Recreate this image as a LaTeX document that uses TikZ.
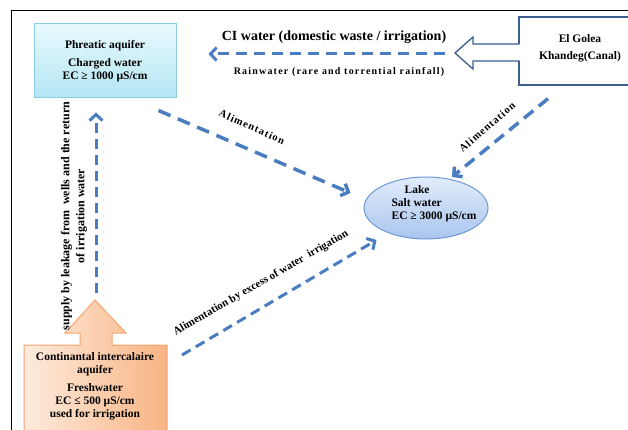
\documentclass[tikz,border=0pt]{standalone}
\usepackage{fontspec}
\setmainfont{Liberation Serif}
\usetikzlibrary{arrows.meta,shapes.geometric}

\definecolor{flowblue}{HTML}{4A7DC0}
\definecolor{canalline}{HTML}{3C5F90}
\definecolor{phrline}{HTML}{8CCBE0}
\definecolor{phrtop}{HTML}{E8F9FD}
\definecolor{phrbot}{HTML}{B3E6F4}
\definecolor{lakeline}{HTML}{6E98D4}
\definecolor{laketop}{HTML}{E2ECFB}
\definecolor{lakebot}{HTML}{A9C5EE}
\definecolor{ciline}{HTML}{F4A46C}
\definecolor{cilight}{HTML}{FDEBDD}
\definecolor{cidark}{HTML}{F8B483}

\begin{document}
\begin{tikzpicture}
      [x = 1pt, y = -1pt,
      flow/.style={
         draw = flowblue,
         line width = 3pt,
         dash pattern = on 11pt off 7pt,
         -{Straight Barb[length=6pt,width=13pt]}
      },
      txt/.style={
         font = \fontsize{11.5}{13}\selectfont\bfseries,
         align = center,
         inner sep = 0pt
      },
      lbl/.style={
         font = \fontsize{10.5}{12}\selectfont\bfseries\addfontfeature{LetterSpace=10},
         inner sep = 0pt
      }]

      \clip (0, 0) rectangle (628, 430);
      \draw[line width = 1pt] (11, 432) -- (11, 11) -- (630, 11);

      % phreatic aquifer
      \node[draw = phrline, line width = 1pt, top color = phrtop, bottom color = phrbot,
         minimum width = 142pt, minimum height = 74pt, txt] (phreatic) at (105, 61)
         {Phreatic aquifer\\[5pt]Charged water\\EC ≥ 1000 µS/cm};

      % canal and its block arrow
      \node[draw = canalline, line width = 1.3pt, fill = white,
         minimum width = 122pt, minimum height = 68pt] (canal) at (580, 51) {};
      \node[txt] (canaltext) at (580, 48) {El Golea\\[4pt]Khandeg(Canal)};
      \fill[white] (473, 44) rectangle (521, 61);
      \draw[canalline, line width = 1.3pt, line join = miter]
         (519.6, 44) -- (473, 44) -- (473, 37) -- (455, 53) -- (473, 69) -- (473, 61) -- (519.6, 61);
      \coordinate (canaltip) at (455, 53);

      % lake
      \node[draw = lakeline, line width = 1pt, top color = laketop, bottom color = lakebot,
         ellipse, minimum width = 124pt, minimum height = 62pt] (lake) at (426, 208) {};
      \node[txt, align = left] (laketext) at (434, 204)
         {\hspace*{13pt}Lake\\Salt water\\EC ≥ 3000 µS/cm};

      % continental intercalaire
      \shadedraw[left color = cilight, right color = cidark, draw = ciline, line width = 1pt]
         (24, 345) -- (80, 345) -- (80, 333) -- (65, 333) -- (95, 300) -- (126, 333)
         -- (112, 333) -- (112, 345) -- (167, 345) -- (167, 440) -- (24, 440) -- cycle;
      \coordinate (citop) at (95, 300);
      \coordinate (cicorner) at (167, 345);
      \node[txt] (ci) at (95, 386)
         {Continantal intercalaire\\aquifer\\[5pt]Freshwater\\EC ≤ 500 µS/cm\\used for irrigation};

      % flows
      \draw[flow] ([shift = {(-10, 1)}]canaltip) -- ([shift = {(32, -7)}]phreatic.east);
      \draw[flow, line width = 3.5pt, dash pattern = on 13pt off 8pt]
         ([shift = {(-18, 12)}]phreatic.south east) -- ([shift = {(-13, -15)}]lake.west);
      \draw[flow, line width = 3.5pt, dash pattern = on 12pt off 7pt]
         ([shift = {(-32, 13)}]canal.south) -- ([shift = {(26, -31)}]lake.center);
      \draw[flow, dash pattern = on 10pt off 6pt]
         ([shift = {(1, -7)}]citop) -- ([shift = {(-9, 14)}]phreatic.south);
      \draw[flow, dash pattern = on 10pt off 6pt]
         ([shift = {(15, 10)}]cicorner) -- ([shift = {(13, 32)}]lake.west);

      % labels
      \node[inner sep = 0pt, font = \fontsize{14}{16}\selectfont\bfseries] at (334, 37)
         {CI water (domestic waste / irrigation)};
      \node[inner sep = 0pt, font = \fontsize{10}{11}\selectfont\bfseries\addfontfeature{LetterSpace=12}]
         at (339, 72) {Rainwater (rare and torrential rainfall)};
      \node[lbl, rotate = -24] at (252, 127) {Alimentation};
      \node[lbl, rotate = 41] at (487, 127) {Alimentation};
      \node[lbl, rotate = 30, font = \fontsize{11}{12}\selectfont\bfseries] at (261, 283)
         {Alimentation by excess of water~ irrigation};
      \node[inner sep = 0pt, rotate = 90, align = center,
         font = \fontsize{12}{15}\selectfont\bfseries] at (74, 216)
         {supply by leakage from~ wells and the return\\of irrigation water};

   \end{tikzpicture}
\end{document}
